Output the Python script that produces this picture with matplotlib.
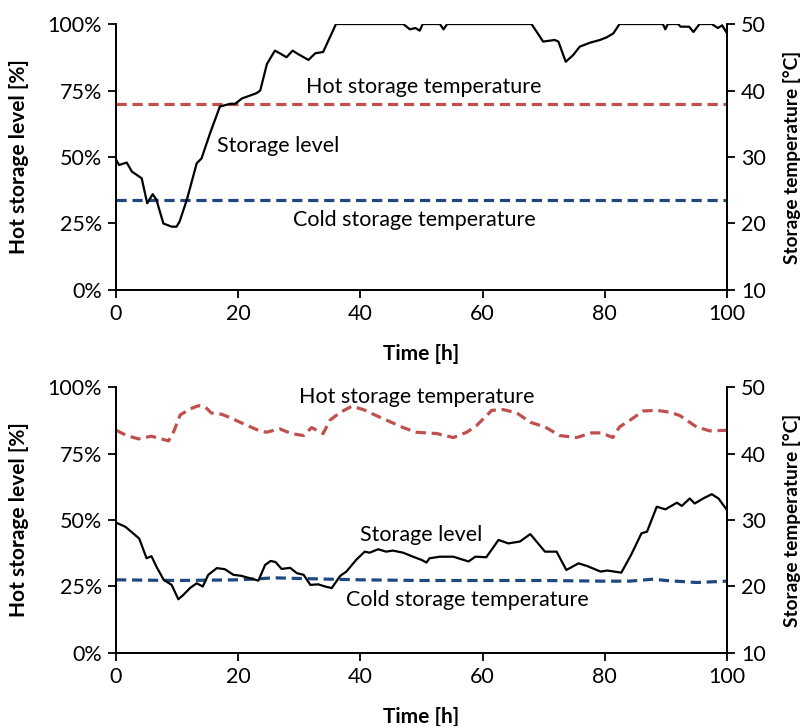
import numpy as np
import matplotlib
matplotlib.use("Agg")
import matplotlib.pyplot as plt
from matplotlib.ticker import FuncFormatter

plt.rcParams['font.family'] = ['Lato', 'DejaVu Sans']

# --- top panel: constant storage temperatures ---
top_h = [0, 0.5, 1.75, 2.6, 4.2, 5.1, 6.0, 6.6, 7.75, 9.1,
         9.9, 10.4, 11.6, 13.2, 14.0, 15.4, 17.0, 18.7, 19.5, 20.6,
         23.0, 23.6, 24.7, 26.0, 26.8, 27.9, 28.9, 29.8, 31.5, 32.6,
         33.9, 35.0, 36.0, 47.0, 48.1, 49.0, 49.7, 50.2, 53.0, 53.6,
         54.2, 68.0, 69.9, 71.8, 72.4, 73.6, 74.8, 75.9, 77.6, 79.2,
         80.3, 81.4, 82.4, 89.5, 89.9, 90.3, 92.0, 92.4, 93.8, 94.5,
         95.5, 97.5, 98.5, 99.2, 100]
top_lvl = [49, 47, 47.9, 44.5, 42, 32.6, 36, 34, 25, 23.8,
           23.8, 25.7, 34, 47.6, 49.5, 59, 69, 70, 70, 72,
           74, 75, 85, 90, 89, 87.5, 90, 88.7, 86.5, 89,
           89.5, 95, 100, 100, 98, 98.5, 97.5, 100, 100, 98,
           100, 100, 93.4, 94, 93.4, 85.8, 88.3, 91.5, 93, 94,
           95, 96.5, 100, 100, 98, 100, 100, 99, 99, 97,
           100, 100, 98.5, 99.5, 96.5]
top_temp_h = [0, 100]
top_hot = [38, 38]
top_cold = [23.5, 23.5]

# --- bottom panel: varying storage temperatures ---
bot_h = [0, 1.5, 2.8, 3.8, 5.0, 5.8, 6.6, 7.8, 9.1, 10.2,
         11.0, 12.1, 13.2, 14.2, 15.1, 16.5, 17.8, 19.2, 20.5, 21.9,
         23.3, 24.4, 25.3, 26.1, 27.1, 28.5, 29.6, 30.7, 31.8, 33.1,
         34.2, 35.3, 36.7, 37.7, 39.3, 40.7, 41.5, 42.9, 44.2, 45.3,
         47.0, 48.6, 50.0, 50.8, 51.3, 53.0, 55.2, 57.7, 58.8, 60.6,
         62.6, 64.2, 66.1, 67.8, 70.2, 72.1, 73.7, 75.7, 77.1, 79.3,
         80.4, 82.7, 84.3, 86.0, 86.9, 88.5, 89.9, 91.8, 92.6, 93.9,
         94.7, 96.1, 97.5, 98.6, 100]
bot_lvl = [49, 47.5, 45, 43, 35.6, 36.4, 32.5, 27.5, 25.6, 20.2,
           21.8, 24.4, 26.2, 25, 29.4, 31.9, 31.5, 29.4, 29, 28.1,
           27.2, 33.1, 34.6, 34.2, 31.6, 32, 30, 29.4, 25.6, 25.8,
           25, 24.4, 29, 30.6, 35, 38.1, 37.7, 39, 38.1, 38.5,
           37.7, 36.2, 35, 34, 35.6, 36.2, 36.2, 34.4, 36.2, 36,
           42.5, 41.2, 41.9, 44.7, 38.1, 38.1, 31.2, 33.7, 32.7, 30.6,
           31, 30.2, 36.9, 45, 45.6, 55, 54, 56.5, 55.3, 58.1,
           56.2, 58.1, 59.7, 58.1, 53.7]
hot_h = [0, 1.75, 3.65, 5.8, 8.6, 9.4, 10.5, 12.1, 13.5, 14.6,
         15.6, 17.3, 18.4, 20.8, 23.0, 24.6, 26.8, 28.7, 30.7, 32.0,
         33.9, 35.0, 36.7, 38.6, 40.5, 42.6, 44.8, 47.0, 49.1, 52.5,
         55.2, 57.4, 59.0, 61.5, 63.4, 65.6, 67.8, 70.2, 72.6, 75.4,
         77.8, 79.5, 81.3, 82.4, 84.1, 86.3, 88.5, 90.7, 92.3, 95.0,
         97.2, 100]
hot_t = [43.5, 42.7, 42.2, 42.6, 41.9, 43.2, 45.8, 46.7, 47.2, 47.0,
         46.1, 45.9, 45.5, 44.5, 43.6, 43.2, 43.7, 43.0, 42.7, 43.9,
         43.0, 45.0, 46.2, 47.1, 46.6, 45.7, 44.8, 43.9, 43.2, 43.0,
         42.4, 43.2, 44.2, 46.5, 46.6, 46.1, 44.7, 44.0, 42.7, 42.4,
         43.1, 43.1, 42.4, 44.0, 45.0, 46.4, 46.5, 46.2, 45.7, 44.0,
         43.4, 43.5]
cold_h = [0, 10, 20, 26, 30, 40, 50, 60, 70, 80, 84, 88, 90, 95, 100]
cold_t = [21.0, 20.9, 21.0, 21.3, 21.2, 21.0, 20.9, 20.9, 20.9, 20.8,
          20.8, 21.1, 20.9, 20.6, 20.8]

RED = '#C0504D'
BLUE = '#1F497D'
FS = 15.5     # tick labels and annotations
LFS = 15      # bold axis titles


def panel(rect, lvl_h, lvl, hh, ht, ch, ct, labels):
    ax = fig.add_axes(rect)
    ax2 = ax.twinx()
    ax.plot(lvl_h, lvl, color='black', lw=1.6, zorder=3)
    ax2.plot(hh, ht, color=RED, lw=2.3, ls=(0, (3.2, 1.8)))
    ax2.plot(ch, ct, color=BLUE, lw=2.3, ls=(0, (3.2, 1.8)))
    ax.set_xlim(0, 100)
    ax.set_ylim(0, 100)
    ax2.set_ylim(10, 50)
    ax.set_xticks(range(0, 101, 20))
    ax.set_yticks(range(0, 101, 25))
    ax2.set_yticks(range(10, 51, 10))
    ax.yaxis.set_major_formatter(FuncFormatter(lambda v, p: '%d%%' % v))
    for a in (ax, ax2):
        a.spines['top'].set_visible(False)
        for s in a.spines.values():
            s.set_linewidth(1.3)
        a.tick_params(direction='out', length=6, width=1.3, labelsize=FS, pad=4)
    ax.set_zorder(ax2.get_zorder() + 1)
    ax.patch.set_visible(False)
    ax.set_xlabel('Time [h]', fontsize=LFS, fontweight='bold')
    ax.set_ylabel('Hot storage level [%]', fontsize=LFS, fontweight='bold')
    ax2.set_ylabel('Storage temperature [°C]', fontsize=13.7, fontweight='bold')
    ax.xaxis.set_label_coords(0.5, -0.205)
    ax.yaxis.set_label_coords(-0.142, 0.5)
    ax2.yaxis.set_label_coords(1.092, 0.5)
    for txt, x, y in labels:
        ax.text(x, y, txt, ha='center', va='center', fontsize=FS)
    return ax, ax2


fig = plt.figure(figsize=(8.08, 7.26), dpi=100)
panel([0.1436, 0.6006, 0.7562, 0.3663], top_h, top_lvl, top_temp_h, top_hot,
      top_temp_h, top_cold,
      [('Hot storage temperature', 50.4, 76.5),
       ('Storage level', 26.5, 54.0),
       ('Cold storage temperature', 48.9, 26.3)])
panel([0.1436, 0.1006, 0.7562, 0.3663], bot_h, bot_lvl, hot_h, hot_t,
      cold_h, cold_t,
      [('Hot storage temperature', 49.2, 96.1),
       ('Storage level', 50.0, 44.5),
       ('Cold storage temperature', 57.5, 20.0)])

fig.savefig('out.png', dpi=100)
